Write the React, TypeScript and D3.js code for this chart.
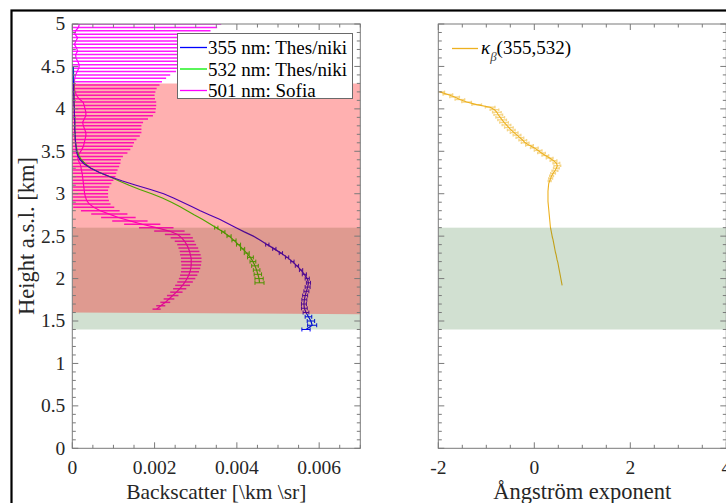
import { useEffect, useRef } from "react";
import * as d3 from "d3";

const W = 726;
const H = 503;

// axis ticks
const heightTicks = [0, 0.5, 1, 1.5, 2, 2.5, 3, 3.5, 4, 4.5, 5];
const backscatterTicks = [0, 0.002, 0.004, 0.006];
const angstromTicks = [-2, 0, 2, 4];

const legendLabels = ["355 nm: Thes/niki", "532 nm: Thes/niki", "501 nm: Sofia"];
const legendColors = ["#0000ff", "#00f000", "#ff00ff"];
const angColor = "#edb120";

// shaded layers (km)
const dustLayerTop = 4.3;
const dustLayerBase = [1.6, 1.58]; // at left / right edge
const mixingLayer = [1.4, 2.6];

// Thessaloniki profiles, 355 and 532 nm
const thesHeights = [
  1.4, 1.45, 1.5, 1.55, 1.6, 1.65, 1.7, 1.75, 1.8, 1.85,
  1.9, 1.95, 2.0, 2.05, 2.1, 2.15, 2.2, 2.25, 2.3, 2.35,
  2.4, 2.45, 2.5, 2.55, 2.6, 2.65, 2.7, 2.75, 2.8, 2.85,
  2.9, 2.95, 3.0, 3.05, 3.1, 3.15, 3.2, 3.25, 3.3, 3.35,
  3.4, 3.45, 3.5, 3.55, 3.6, 3.65, 3.7, 3.75, 3.8, 3.85,
  3.9, 3.95, 4.0, 4.05, 4.1, 4.15, 4.2, 4.25, 4.3, 4.35,
  4.4, 4.45, 4.5,
];
const bsc355 = [
  0.00568, 0.00583, 0.0058, 0.00574, 0.00568, 0.00564, 0.00563, 0.00564, 0.00566, 0.00569,
  0.00572, 0.00574, 0.00571, 0.00564, 0.00556, 0.00546, 0.00535, 0.00522, 0.00507, 0.00491,
  0.00474, 0.00458, 0.0044, 0.00418, 0.00398, 0.00378, 0.00358, 0.00334, 0.00311, 0.0029,
  0.00268, 0.00246, 0.00222, 0.0019, 0.00155, 0.00122, 0.00092, 0.00066, 0.00045, 0.00029,
  0.00019, 0.00013, 0.0001, 0.00009, 0.00008, 0.00007, 0.00007, 0.00006, 0.00006, 0.00006,
  0.00005, 0.00005, 0.00005, 0.00004, 0.00004, 0.00004, 0.00003, 0.00003, 0.00003, 0.00002,
  0.00002, 0.00002, 0.00002,
];
const err355 = [
  0.0001, 0.00011, 0.00009, 0.00008, 0.00007, 0.00007, 0.00006, 0.00006, 0.00006, 0.00006,
  0.00006, 0.00005, 0.00005, 0.00005, 0.00004, 0.00004, 0.00004, 0.00004, 0.00004, 0.00004,
  0.00004, 0, 0, 0, 0, 0, 0, 0, 0, 0,
  0, 0, 0, 0, 0, 0, 0, 0, 0, 0,
  0, 0, 0, 0, 0, 0, 0, 0, 0, 0,
  0, 0, 0, 0, 0, 0, 0, 0, 0, 0,
  0, 0, 0,
];
const bsc532 = [
  null, null, null, null, null, null, null, null, null, null,
  null, 0.00455, 0.00454, 0.00451, 0.00448, 0.00444, 0.00439, 0.00433, 0.00424, 0.00414,
  0.00404, 0.00393, 0.00381, 0.00367, 0.0035, 0.00333, 0.00316, 0.00297, 0.00279, 0.00261,
  0.00241, 0.00219, 0.00193, 0.00164, 0.00138, 0.00114, 0.00091, 0.00066, 0.00046, 0.00032,
  0.00022, 0.00016, 0.00012, 0.0001, 0.00008, 0.00007, 0.00007, 0.00006, 0.00006, 0.00006,
  0.00006, 0.00005, 0.00005, 0.00005, 0.00004, 0.00004, 0.00004, 0.00004, 0.00004, 0.00003,
  0.00003, 0.00003, 0.00002,
];
const err532 = [
  null, null, null, null, null, null, null, null, null, null,
  null, 0.00011, 0.0001, 0.00009, 0.00008, 0.00008, 0.00007, 0.00007, 0.00006, 0.00005,
  0.00005, 0.00005, 0.00005, 0.00004, 0.00004, 0, 0, 0, 0, 0,
  0, 0, 0, 0, 0, 0, 0, 0, 0, 0,
  0, 0, 0, 0, 0, 0, 0, 0, 0, 0,
  0, 0, 0, 0, 0, 0, 0, 0, 0, 0,
  0, 0, 0,
];

// Sofia profile, 501 nm
const sofiaHeights = [
  1.64, 1.68, 1.72, 1.76, 1.8, 1.84, 1.88, 1.92, 1.96, 2.0,
  2.04, 2.08, 2.12, 2.16, 2.2, 2.24, 2.28, 2.32, 2.36, 2.4,
  2.44, 2.48, 2.52, 2.56, 2.6, 2.64, 2.68, 2.72, 2.76, 2.8,
  2.84, 2.88, 2.92, 2.96, 3.0, 3.04, 3.08, 3.12, 3.16, 3.2,
  3.24, 3.28, 3.32, 3.36, 3.4, 3.44, 3.48, 3.52, 3.56, 3.6,
  3.64, 3.68, 3.72, 3.76, 3.8, 3.84, 3.88, 3.92, 3.96, 4.0,
  4.04, 4.08, 4.12, 4.16, 4.2, 4.24, 4.28, 4.32, 4.36, 4.4,
  4.44, 4.48, 4.52, 4.56, 4.6, 4.64, 4.68, 4.72, 4.76, 4.8,
  4.84, 4.88, 4.92, 4.96, 5.0,
];
const sofiaBsc = [
  0.00205, 0.00215, 0.00226, 0.00235, 0.00244, 0.00253, 0.00261, 0.00268, 0.00274, 0.00279,
  0.00283, 0.00286, 0.00288, 0.00289, 0.00289, 0.00289, 0.00287, 0.00285, 0.00282, 0.00278,
  0.00273, 0.00266, 0.00256, 0.00236, 0.00204, 0.0017, 0.0014, 0.00112, 0.0009, 0.00068,
  0.00052, 0.00041, 0.00035, 0.00032, 0.0003, 0.00029, 0.00028, 0.00027, 0.00026, 0.00025,
  0.00024, 0.00022, 0.00021, 0.00018, 0.00014, 0.00013, 0.00018, 0.00023, 0.00027, 0.00029,
  0.00031, 0.00033, 0.00033, 0.0003, 0.00027, 0.00025, 0.00029, 0.00033, 0.00033, 0.00031,
  0.00029, 0.00026, 0.00016, 0.0001, 0.00007, 0.00005, 0.00005, 0.00005, 0.00006, 0.00008,
  0.00012, 0.00016, 0.00017, 0.00013, 0.00009, 0.00008, 0.00013, 0.0001, 0.00005, 0.00009,
  0.00013, 0.00006, 0.00008, 0.00015, 0.00017,
];
const sofiaErr = [
  0.0001, 0.00011, 0.00012, 0.00013, 0.00014, 0.00015, 0.00016, 0.00018, 0.00019, 0.0002,
  0.00021, 0.00022, 0.00023, 0.00024, 0.00025, 0.00025, 0.00025, 0.00024, 0.00024, 0.00023,
  0.00024, 0.00027, 0.00031, 0.00037, 0.00042, 0.00044, 0.00043, 0.00042, 0.00044, 0.00047,
  0.0005, 0.00052, 0.00054, 0.00055, 0.00057, 0.00058, 0.00062, 0.00068, 0.00074, 0.0008,
  0.00083, 0.00088, 0.00093, 0.00099, 0.00104, 0.0011, 0.00116, 0.00118, 0.0012, 0.00121,
  0.00125, 0.00131, 0.00135, 0.00138, 0.00141, 0.00147, 0.00155, 0.00163, 0.00169, 0.00172,
  0.00175, 0.00178, 0.00185, 0.0019, 0.00195, 0.002, 0.00207, 0.00213, 0.00222, 0.0023,
  0.0024, 0.00248, 0.00256, 0.00265, 0.00272, 0.0028, 0.00287, 0.00294, 0.003, 0.00307,
  0.00315, 0.00322, 0.00328, 0.00337, 0.00345,
];

// backscatter-related Angstrom exponent 355/532
const angHeights = [
  1.92, 1.95, 1.98, 2.01, 2.04, 2.07, 2.1, 2.13, 2.16, 2.19,
  2.22, 2.25, 2.28, 2.31, 2.34, 2.37, 2.4, 2.43, 2.46, 2.49,
  2.52, 2.55, 2.58, 2.61, 2.64, 2.67, 2.7, 2.73, 2.76, 2.79,
  2.82, 2.85, 2.88, 2.91, 2.94, 2.97, 3.0, 3.03, 3.06, 3.09,
  3.12, 3.15, 3.18, 3.21, 3.24, 3.27, 3.3, 3.33, 3.36, 3.39,
  3.42, 3.45, 3.48, 3.51, 3.54, 3.57, 3.6, 3.63, 3.66, 3.69,
  3.72, 3.75, 3.78, 3.81, 3.84, 3.87, 3.9, 3.93, 3.96, 3.99,
  4.02, 4.05, 4.08, 4.11, 4.14, 4.17, 4.2,
];
const angValues = [
  0.58, 0.57, 0.56, 0.55, 0.54, 0.53, 0.52, 0.51, 0.5, 0.49,
  0.475, 0.465, 0.455, 0.44, 0.43, 0.42, 0.41, 0.4, 0.39, 0.375,
  0.365, 0.355, 0.345, 0.335, 0.33, 0.325, 0.32, 0.315, 0.31, 0.305,
  0.3, 0.295, 0.29, 0.285, 0.285, 0.285, 0.285, 0.285, 0.29, 0.295,
  0.3, 0.32, 0.34, 0.36, 0.39, 0.43, 0.46, 0.48, 0.46, 0.4,
  0.32, 0.23, 0.15, 0.08, 0.0, -0.1, -0.19, -0.24, -0.3, -0.36,
  -0.42, -0.48, -0.53, -0.58, -0.63, -0.67, -0.71, -0.75, -0.78, -0.83,
  -0.92, -1.2, -1.41, -1.55, -1.66, -1.8, -1.97,
];
const angErr = [
  0, 0, 0, 0, 0, 0, 0, 0, 0, 0,
  0, 0, 0, 0, 0, 0, 0, 0, 0, 0,
  0, 0, 0, 0, 0, 0, 0, 0, 0, 0,
  0, 0, 0, 0, 0, 0, 0, 0, 0, 0,
  0, 0.03, 0.04, 0.04, 0.05, 0.06, 0.06, 0.07, 0.07, 0.07,
  0.07, 0.07, 0.08, 0.08, 0.08, 0.08, 0.08, 0.08, 0.08, 0.08,
  0.08, 0.08, 0.09, 0.09, 0.09, 0.09, 0.09, 0.09, 0.09, 0.09,
  0.1, 0.1, 0.1, 0.1, 0.1, 0.1, 0.1,
];

const FONT = "'Liberation Serif', 'Times New Roman', serif";
const AXIS = "#7a7a7a";
const TEXT = "#262626";

export default function App() {
  const svgRef = useRef(null);

  useEffect(() => {
    const svg = d3.select(svgRef.current);
    svg.selectAll("*").remove();

    const y = d3.scaleLinear().domain([0, 5]).range([448.3, 24]);
    const xB = d3.scaleLinear().domain([0, 0.007]).range([72.3, 360.3]);
    const xA = d3.scaleLinear().domain([-2, 4]).range([438.3, 726.3]);

    svg.append("rect").attr("width", W).attr("height", H).attr("fill", "#fff");

    const defs = svg.append("defs");
    const addClip = (id, x) =>
      defs
        .append("clipPath")
        .attr("id", id)
        .append("rect")
        .attr("x", x.range()[0])
        .attr("y", y.range()[1])
        .attr("width", x.range()[1] - x.range()[0])
        .attr("height", y.range()[0] - y.range()[1]);
    addClip("clipB", xB);
    addClip("clipA", xA);

    const errorBars = (g, hs, vs, es, x, color, width, cap, opacity) => {
      const pts = hs
        .map((h, i) => ({ h, v: vs[i], e: es[i] }))
        .filter((d) => d.v != null && d.e > 0);
      const eg = g
        .append("g")
        .attr("stroke", color)
        .attr("stroke-width", width)
        .attr("opacity", opacity);
      eg.selectAll("line.bar")
        .data(pts)
        .join("line")
        .attr("class", "bar")
        .attr("x1", (d) => x(d.v - d.e))
        .attr("x2", (d) => x(d.v + d.e))
        .attr("y1", (d) => y(d.h))
        .attr("y2", (d) => y(d.h));
      if (cap > 0) {
        const ends = pts.flatMap((d) => [
          { h: d.h, v: d.v - d.e },
          { h: d.h, v: d.v + d.e },
        ]);
        eg.selectAll("line.cap")
          .data(ends)
          .join("line")
          .attr("class", "cap")
          .attr("x1", (d) => x(d.v))
          .attr("x2", (d) => x(d.v))
          .attr("y1", (d) => y(d.h) - cap)
          .attr("y2", (d) => y(d.h) + cap);
      }
    };

    const profile = (g, hs, vs, x, color, width) => {
      const pts = hs.map((h, i) => ({ h, v: vs[i] }));
      g.append("path")
        .datum(pts)
        .attr("fill", "none")
        .attr("stroke", color)
        .attr("stroke-width", width)
        .attr(
          "d",
          d3
            .line()
            .defined((d) => d.v != null)
            .x((d) => x(d.v))
            .y((d) => y(d.h))
        );
    };

    // ---- left panel: backscatter ----
    const gB = svg.append("g").attr("clip-path", "url(#clipB)");
    errorBars(gB, sofiaHeights, sofiaBsc, sofiaErr, xB, "#ff00ff", 1.5, 0, 0.9);
    profile(gB, sofiaHeights, sofiaBsc, xB, "#ff00ff", 1.2);
    errorBars(gB, thesHeights, bsc532, err532, xB, "#00f000", 1, 2, 1);
    profile(gB, thesHeights, bsc532, xB, "#00f000", 1.2);
    errorBars(gB, thesHeights, bsc355, err355, xB, "#0000ff", 1, 2, 1);
    profile(gB, thesHeights, bsc355, xB, "#0000ff", 1.2);

    gB.append("rect")
      .attr("x", xB(0))
      .attr("y", y(mixingLayer[1]))
      .attr("width", xB(0.007) - xB(0))
      .attr("height", y(mixingLayer[0]) - y(mixingLayer[1]))
      .attr("fill", "rgb(0,85,0)")
      .attr("fill-opacity", 0.18);
    gB.append("path")
      .attr(
        "d",
        d3.line()([
          [xB(0), y(dustLayerTop)],
          [xB(0.007), y(dustLayerTop)],
          [xB(0.007), y(dustLayerBase[1])],
          [xB(0), y(dustLayerBase[0])],
        ]) + "Z"
      )
      .attr("fill", "rgb(255,0,0)")
      .attr("fill-opacity", 0.31);

    // ---- right panel: Angstrom exponent ----
    const gA = svg.append("g").attr("clip-path", "url(#clipA)");
    errorBars(gA, angHeights, angValues, angErr, xA, angColor, 1.3, 1.3, 0.55);
    profile(gA, angHeights, angValues, xA, angColor, 1.1);
    gA.append("rect")
      .attr("x", xA(-2))
      .attr("y", y(mixingLayer[1]))
      .attr("width", xA(4) - xA(-2))
      .attr("height", y(mixingLayer[0]) - y(mixingLayer[1]))
      .attr("fill", "rgb(0,85,0)")
      .attr("fill-opacity", 0.18);

    // ---- axes frames ----
    const frame = (x, majors, minors, yLabels) => {
      const [x0, x1] = x.range();
      const [yb, yt] = y.range();
      const g = svg
        .append("g")
        .attr("stroke", AXIS)
        .attr("stroke-width", 1)
        .attr("fill", "none");
      g.append("rect")
        .attr("x", x0)
        .attr("y", yt)
        .attr("width", x1 - x0)
        .attr("height", yb - yt);
      const isMajor = (arr, v) => arr.some((m) => Math.abs(m - v) < 1e-9);
      minors.forEach((v) => {
        const len = isMajor(majors, v) ? 6 : 3.5;
        g.append("line").attr("x1", x(v)).attr("x2", x(v)).attr("y1", yb).attr("y2", yb - len);
        g.append("line").attr("x1", x(v)).attr("x2", x(v)).attr("y1", yt).attr("y2", yt + len);
      });
      y.ticks(50).forEach((v) => {
        const len = isMajor(heightTicks, v) ? 6 : 3.5;
        g.append("line").attr("x1", x0).attr("x2", x0 + len).attr("y1", y(v)).attr("y2", y(v));
        g.append("line").attr("x1", x1).attr("x2", x1 - len).attr("y1", y(v)).attr("y2", y(v));
      });
      const t = svg
        .append("g")
        .attr("font-family", FONT)
        .attr("font-size", 19.5)
        .attr("fill", TEXT);
      t.selectAll("text.xt")
        .data(majors)
        .join("text")
        .attr("class", "xt")
        .attr("x", (d) => x(d))
        .attr("y", 474)
        .attr("text-anchor", "middle")
        .text((d) => String(d));
      if (yLabels) {
        t.selectAll("text.yt")
          .data(heightTicks)
          .join("text")
          .attr("class", "yt")
          .attr("x", x0 - 7)
          .attr("y", (d) => y(d))
          .attr("dy", "0.33em")
          .attr("text-anchor", "end")
          .text((d) => String(d));
      }
    };
    frame(xB, backscatterTicks, xB.ticks(14), true);
    frame(xA, angstromTicks, xA.ticks(12), false);

    // axis titles
    svg
      .append("text")
      .attr("transform", "translate(34,236) rotate(-90)")
      .attr("text-anchor", "middle")
      .attr("font-family", FONT)
      .attr("font-size", 22.5)
      .attr("fill", TEXT)
      .text("Height a.s.l. [km]");
    svg
      .append("text")
      .attr("x", (xB.range()[0] + xB.range()[1]) / 2)
      .attr("y", 499)
      .attr("text-anchor", "middle")
      .attr("font-family", FONT)
      .attr("font-size", 21.5)
      .attr("fill", TEXT)
      .text("Backscatter [\\km \\sr]");
    svg
      .append("text")
      .attr("x", (xA.range()[0] + xA.range()[1]) / 2)
      .attr("y", 499)
      .attr("text-anchor", "middle")
      .attr("font-family", FONT)
      .attr("font-size", 22.5)
      .attr("fill", TEXT)
      .text("Ångström exponent");

    // ---- legends ----
    const lg = svg.append("g").attr("font-family", FONT).attr("font-size", 19);
    lg.append("rect")
      .attr("x", 177.5)
      .attr("y", 33.5)
      .attr("width", 175)
      .attr("height", 65)
      .attr("fill", "#fff")
      .attr("stroke", "#6a6a6a")
      .attr("stroke-width", 1);
    legendLabels.forEach((label, i) => {
      const ry = 47.5 + i * 21.5;
      lg.append("line")
        .attr("x1", 180)
        .attr("x2", 207)
        .attr("y1", ry)
        .attr("y2", ry)
        .attr("stroke", legendColors[i])
        .attr("stroke-width", 1.3);
      lg.append("text")
        .attr("x", 208)
        .attr("y", ry + 6.5)
        .attr("fill", "#000")
        .text(label);
    });

    const la = svg.append("g").attr("font-family", FONT);
    la.append("line")
      .attr("x1", 452)
      .attr("x2", 478)
      .attr("y1", 48.5)
      .attr("y2", 48.5)
      .attr("stroke", angColor)
      .attr("stroke-width", 1.3);
    const lt = la.append("text").attr("x", 481).attr("y", 54).attr("font-size", 19).attr("fill", "#000");
    lt.append("tspan").attr("font-style", "italic").text("κ");
    lt.append("tspan").attr("font-style", "italic").attr("font-size", 13).attr("dy", 7).attr("fill", "#444").text("β");
    lt.append("tspan").attr("dy", -7).text("(355,532)");

    // figure border
    svg
      .append("rect")
      .attr("x", 11.5)
      .attr("y", 10.5)
      .attr("width", 800)
      .attr("height", 600)
      .attr("fill", "none")
      .attr("stroke", "#000")
      .attr("stroke-width", 2.2);
  }, []);

  return (
    <svg
      ref={svgRef}
      width={W}
      height={H}
      style={{ position: "absolute", left: 0, top: 0, display: "block" }}
    />
  );
}
